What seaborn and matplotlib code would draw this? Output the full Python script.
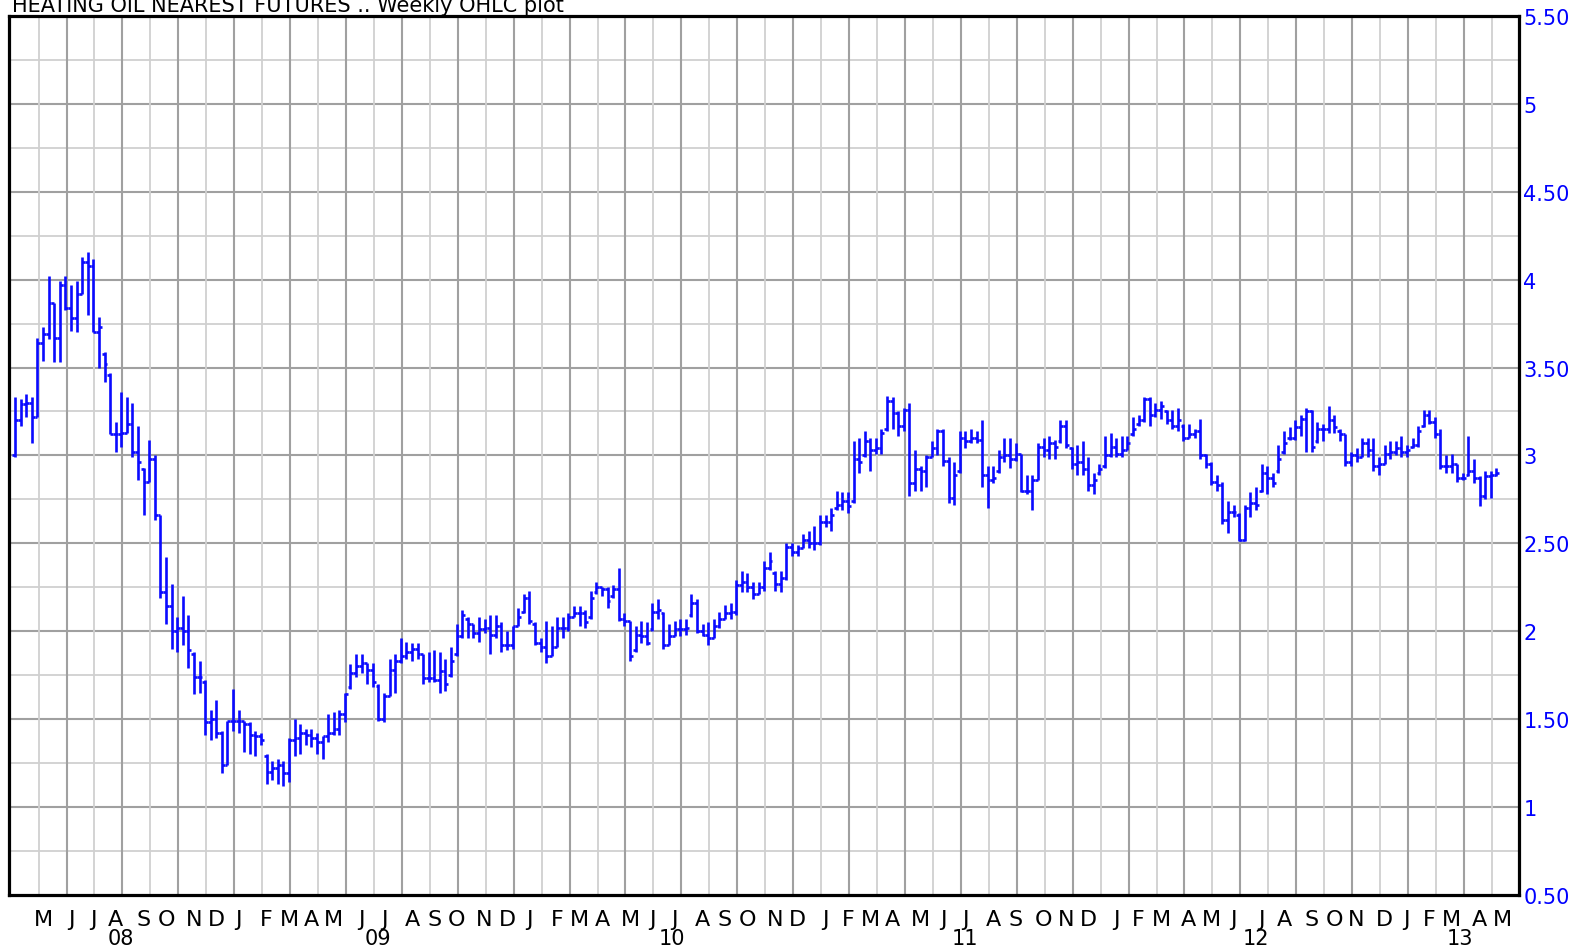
import numpy as np
import pandas as pd
import matplotlib
matplotlib.use("Agg")
import matplotlib.pyplot as plt
import seaborn as sns

# Weekly bars, first bar is the week ending 2008-04-04
start_week = "2008-04-04"

opens = [
    3.00, 3.20, 3.29, 3.30, 3.22, 3.64, 3.69, 3.87, 3.67, 3.97,
    3.84, 3.78, 3.92, 4.10, 4.08, 3.70, 3.58, 3.46, 3.12, 3.12,
    3.13, 3.18, 3.02, 2.92, 2.85, 2.98, 2.66, 2.22, 2.14, 2.00,
    2.02, 2.00, 1.87, 1.74, 1.71, 1.48, 1.50, 1.42, 1.24, 1.49,
    1.49, 1.49, 1.47, 1.41, 1.40, 1.29, 1.20, 1.22, 1.24, 1.19,
    1.38, 1.39, 1.42, 1.41, 1.39, 1.37, 1.40, 1.42, 1.44, 1.53,
    1.68, 1.76, 1.80, 1.82, 1.78, 1.69, 1.50, 1.63, 1.78, 1.83,
    1.86, 1.88, 1.90, 1.87, 1.73, 1.73, 1.72, 1.77, 1.75, 1.87,
    1.97, 2.07, 2.04, 1.99, 2.01, 2.02, 1.98, 2.03, 1.92, 1.92,
    2.03, 2.11, 2.19, 2.04, 1.93, 1.91, 1.86, 1.91, 2.02, 2.02,
    2.08, 2.10, 2.10, 2.08, 2.22, 2.25, 2.24, 2.20, 2.24, 2.07,
    2.06, 1.89, 1.98, 1.97, 2.01, 2.11, 2.10, 1.92, 1.97, 2.01,
    2.01, 2.09, 2.16, 2.00, 1.98, 1.96, 2.03, 2.07, 2.10, 2.11,
    2.26, 2.28, 2.25, 2.21, 2.25, 2.36, 2.33, 2.27, 2.30, 2.48,
    2.45, 2.47, 2.52, 2.50, 2.50, 2.62, 2.62, 2.70, 2.72, 2.74,
    2.74, 2.98, 3.00, 3.08, 3.03, 3.04, 3.15, 3.31, 3.24, 3.17,
    3.26, 2.84, 2.92, 2.91, 2.99, 3.04, 3.14, 2.97, 2.76, 2.91,
    3.10, 3.08, 3.10, 3.09, 2.89, 2.86, 2.91, 2.99, 3.00, 2.98,
    3.01, 2.80, 2.80, 2.86, 3.05, 3.03, 3.07, 3.08, 3.17, 3.04,
    2.95, 2.96, 2.92, 2.83, 2.90, 2.94, 3.00, 3.05, 3.01, 3.03,
    3.12, 3.18, 3.20, 3.32, 3.23, 3.26, 3.25, 3.20, 3.17, 3.17,
    3.10, 3.12, 3.14, 3.00, 2.95, 2.85, 2.83, 2.63, 2.68, 2.66,
    2.52, 2.70, 2.73, 2.80, 2.90, 2.87, 2.91, 3.02, 3.10, 3.10,
    3.16, 3.21, 3.25, 3.08, 3.15, 3.15, 3.20, 3.14, 3.12, 2.96,
    3.00, 2.99, 3.07, 3.03, 2.94, 2.95, 3.01, 3.02, 3.04, 3.02,
    3.05, 3.06, 3.17, 3.23, 3.19, 3.12, 2.94, 2.94, 2.95, 2.87,
    2.89, 2.91, 2.87, 2.77, 2.88, 2.89,
]

highs = [
    3.33, 3.32, 3.35, 3.33, 3.67, 3.73, 4.02, 3.87, 3.99, 4.02,
    3.97, 3.99, 4.13, 4.16, 4.12, 3.79, 3.59, 3.47, 3.19, 3.36,
    3.33, 3.30, 3.17, 2.93, 3.09, 3.00, 2.66, 2.42, 2.27, 2.08,
    2.20, 2.09, 1.88, 1.83, 1.72, 1.55, 1.61, 1.43, 1.49, 1.67,
    1.55, 1.49, 1.48, 1.43, 1.42, 1.30, 1.26, 1.27, 1.26, 1.39,
    1.50, 1.47, 1.44, 1.44, 1.42, 1.40, 1.53, 1.54, 1.55, 1.65,
    1.81, 1.87, 1.87, 1.82, 1.82, 1.70, 1.65, 1.84, 1.87, 1.96,
    1.94, 1.93, 1.93, 1.87, 1.88, 1.89, 1.88, 1.84, 1.91, 2.04,
    2.12, 2.08, 2.04, 2.08, 2.07, 2.09, 2.09, 2.05, 2.00, 2.03,
    2.13, 2.21, 2.23, 2.05, 1.96, 2.06, 2.03, 2.08, 2.08, 2.10,
    2.14, 2.14, 2.12, 2.23, 2.28, 2.25, 2.25, 2.26, 2.36, 2.10,
    2.06, 2.03, 2.06, 2.05, 2.16, 2.18, 2.11, 2.04, 2.06, 2.07,
    2.07, 2.21, 2.18, 2.04, 2.05, 2.07, 2.11, 2.15, 2.16, 2.29,
    2.34, 2.33, 2.28, 2.28, 2.40, 2.45, 2.34, 2.34, 2.50, 2.50,
    2.49, 2.55, 2.57, 2.60, 2.66, 2.66, 2.70, 2.80, 2.79, 2.79,
    3.08, 3.10, 3.14, 3.10, 3.10, 3.15, 3.34, 3.33, 3.25, 3.27,
    3.30, 3.03, 2.94, 3.00, 3.08, 3.15, 3.15, 2.99, 2.96, 3.14,
    3.14, 3.15, 3.14, 3.20, 2.94, 2.94, 3.03, 3.10, 3.10, 3.07,
    3.01, 2.89, 2.89, 3.07, 3.10, 3.11, 3.09, 3.20, 3.20, 3.05,
    3.06, 3.08, 2.99, 2.90, 2.95, 3.11, 3.13, 3.10, 3.11, 3.11,
    3.22, 3.23, 3.33, 3.33, 3.30, 3.31, 3.26, 3.26, 3.27, 3.18,
    3.18, 3.15, 3.21, 3.01, 2.96, 2.89, 2.85, 2.74, 2.72, 2.67,
    2.72, 2.79, 2.82, 2.95, 2.94, 2.90, 3.06, 3.14, 3.16, 3.20,
    3.23, 3.27, 3.26, 3.19, 3.18, 3.28, 3.23, 3.15, 3.12, 3.02,
    3.04, 3.10, 3.10, 3.10, 2.99, 3.06, 3.08, 3.08, 3.11, 3.06,
    3.10, 3.17, 3.26, 3.26, 3.22, 3.15, 3.00, 3.01, 2.95, 2.90,
    3.11, 2.98, 2.88, 2.91, 2.91, 2.93,
]

lows = [
    2.99, 3.17, 3.22, 3.07, 3.22, 3.54, 3.66, 3.53, 3.53, 3.83,
    3.71, 3.70, 3.92, 3.80, 3.70, 3.50, 3.42, 3.12, 3.02, 3.05,
    3.13, 2.99, 2.86, 2.66, 2.85, 2.63, 2.19, 2.04, 1.90, 1.88,
    1.92, 1.79, 1.64, 1.65, 1.41, 1.38, 1.39, 1.19, 1.24, 1.43,
    1.42, 1.31, 1.30, 1.29, 1.35, 1.13, 1.15, 1.13, 1.12, 1.14,
    1.29, 1.30, 1.35, 1.34, 1.30, 1.27, 1.37, 1.41, 1.41, 1.48,
    1.67, 1.74, 1.76, 1.70, 1.68, 1.49, 1.48, 1.63, 1.65, 1.82,
    1.84, 1.83, 1.84, 1.70, 1.71, 1.71, 1.65, 1.66, 1.74, 1.86,
    1.96, 1.96, 1.96, 1.94, 1.99, 1.87, 1.96, 1.88, 1.89, 1.90,
    2.03, 2.10, 2.04, 1.92, 1.88, 1.82, 1.86, 1.91, 1.96, 2.00,
    2.08, 2.03, 2.02, 2.07, 2.21, 2.20, 2.13, 2.19, 2.06, 2.03,
    1.83, 1.88, 1.93, 1.92, 2.00, 2.07, 1.90, 1.92, 1.97, 1.97,
    1.98, 2.08, 1.99, 1.97, 1.92, 1.96, 2.02, 2.07, 2.07, 2.09,
    2.22, 2.22, 2.18, 2.21, 2.23, 2.35, 2.23, 2.22, 2.29, 2.43,
    2.43, 2.47, 2.47, 2.46, 2.49, 2.59, 2.57, 2.69, 2.69, 2.67,
    2.73, 2.90, 2.99, 2.91, 3.01, 3.01, 3.14, 3.15, 3.11, 3.14,
    2.77, 2.80, 2.80, 2.82, 2.99, 3.00, 2.94, 2.73, 2.72, 2.90,
    3.04, 3.07, 3.07, 2.82, 2.70, 2.84, 2.90, 2.96, 2.93, 2.97,
    2.79, 2.78, 2.69, 2.86, 2.99, 2.98, 2.98, 3.07, 3.04, 2.92,
    2.89, 2.89, 2.80, 2.78, 2.89, 2.93, 2.99, 2.99, 2.99, 3.03,
    3.11, 3.17, 3.19, 3.17, 3.22, 3.21, 3.18, 3.15, 3.14, 3.08,
    3.10, 3.10, 2.98, 2.93, 2.83, 2.80, 2.61, 2.56, 2.65, 2.51,
    2.51, 2.65, 2.69, 2.79, 2.78, 2.82, 2.90, 3.01, 3.09, 3.09,
    3.11, 3.02, 3.02, 3.07, 3.08, 3.13, 3.13, 3.08, 2.94, 2.94,
    2.96, 2.99, 2.99, 2.91, 2.89, 2.95, 2.98, 3.00, 2.99, 2.99,
    3.04, 3.05, 3.16, 3.18, 3.10, 2.92, 2.90, 2.90, 2.85, 2.86,
    2.88, 2.84, 2.71, 2.75, 2.76, 2.88,
]

closes = [
    3.20, 3.29, 3.30, 3.22, 3.64, 3.69, 3.87, 3.67, 3.97, 3.84,
    3.78, 3.92, 4.10, 4.08, 3.70, 3.73, 3.52, 3.12, 3.12, 3.13,
    3.18, 3.02, 2.96, 2.85, 2.98, 2.66, 2.22, 2.14, 2.00, 2.02,
    2.00, 1.89, 1.74, 1.74, 1.48, 1.50, 1.42, 1.24, 1.49, 1.49,
    1.49, 1.47, 1.41, 1.40, 1.38, 1.20, 1.22, 1.24, 1.19, 1.38,
    1.39, 1.42, 1.41, 1.39, 1.37, 1.40, 1.42, 1.44, 1.53, 1.64,
    1.76, 1.80, 1.82, 1.78, 1.71, 1.50, 1.63, 1.78, 1.83, 1.86,
    1.88, 1.90, 1.87, 1.73, 1.73, 1.72, 1.77, 1.70, 1.83, 1.97,
    2.09, 2.04, 1.99, 2.01, 2.02, 1.98, 2.03, 1.92, 1.92, 2.03,
    2.08, 2.19, 2.06, 1.93, 1.91, 1.86, 1.91, 2.02, 2.02, 2.08,
    2.10, 2.10, 2.05, 2.19, 2.25, 2.24, 2.17, 2.24, 2.07, 2.06,
    1.86, 1.98, 1.97, 1.93, 2.11, 2.12, 1.92, 1.97, 2.01, 2.01,
    2.02, 2.16, 2.00, 1.98, 1.96, 2.03, 2.07, 2.10, 2.11, 2.26,
    2.28, 2.25, 2.21, 2.25, 2.36, 2.40, 2.27, 2.30, 2.48, 2.45,
    2.47, 2.52, 2.50, 2.50, 2.62, 2.62, 2.66, 2.72, 2.74, 2.71,
    2.98, 2.96, 3.08, 3.03, 3.04, 3.13, 3.31, 3.24, 3.17, 3.26,
    2.84, 2.92, 2.91, 2.99, 3.04, 3.14, 2.97, 2.76, 2.89, 3.10,
    3.08, 3.10, 3.09, 2.89, 2.86, 2.87, 2.99, 3.00, 2.98, 3.01,
    2.80, 2.80, 2.86, 3.05, 3.03, 3.07, 3.05, 3.17, 3.06, 2.95,
    2.96, 2.92, 2.83, 2.86, 2.92, 3.00, 3.05, 3.01, 3.03, 3.07,
    3.15, 3.20, 3.32, 3.23, 3.26, 3.28, 3.20, 3.17, 3.20, 3.10,
    3.12, 3.14, 3.00, 2.95, 2.85, 2.83, 2.63, 2.68, 2.68, 2.52,
    2.70, 2.73, 2.72, 2.90, 2.87, 2.84, 2.98, 3.07, 3.10, 3.16,
    3.21, 3.25, 3.05, 3.15, 3.15, 3.20, 3.16, 3.12, 2.96, 3.00,
    2.99, 3.07, 3.03, 2.94, 2.95, 3.01, 3.02, 3.04, 3.02, 3.03,
    3.06, 3.14, 3.23, 3.19, 3.12, 2.94, 2.94, 2.95, 2.87, 2.87,
    2.91, 2.87, 2.77, 2.88, 2.89, 2.90,
]

title = "HEATING OIL NEAREST FUTURES .. Weekly OHLC plot"
price_ticks = [0.5, 1, 1.5, 2, 2.5, 3, 3.5, 4, 4.5, 5, 5.5]
price_labels = ["0.50", "1", "1.50", "2", "2.50", "3", "3.50", "4", "4.50", "5", "5.50"]
month_letters = "JFMAMJJASOND"

sns.set_style("white")
plt.rcParams["font.family"] = ["DejaVu Sans"]

df = pd.DataFrame({
    "date": pd.date_range(start_week, periods=len(closes), freq="7D"),
    "open": opens, "high": highs, "low": lows, "close": closes,
})
df["x"] = np.arange(len(df))

fig = plt.figure(figsize=(15.83, 9.53), dpi=100)
ax = fig.add_axes([0.00575, 0.0603, 0.954, 0.9216])
x_lo, x_hi = -1.07, 269.1
ax.set_xlim(x_lo, x_hi)
ax.set_ylim(0.5, 5.5)

# grid: dark every 0.50 / 10 weeks, light in between
for v in np.arange(0.75, 5.5, 0.5):
    ax.axhline(v, color="#d0d0d0", lw=1.3, zorder=0)
for v in np.arange(1.0, 5.5, 0.5):
    ax.axhline(v, color="#a0a0a0", lw=1.5, zorder=0)
for v in np.arange(4.2, 269, 10):
    ax.axvline(v, color="#d0d0d0", lw=1.3, zorder=0)
for v in np.arange(9.2, 269, 10):
    ax.axvline(v, color="#a0a0a0", lw=1.5, zorder=0)

# OHLC bars
bar_color = "#0a0aff"
ax.vlines(df["x"], df["low"], df["high"], color=bar_color, lw=1.9, zorder=3)
ax.hlines(df["open"], df["x"] - 0.5, df["x"], color=bar_color, lw=1.9, zorder=3)
ax.hlines(df["close"], df["x"], df["x"] + 0.5, color=bar_color, lw=1.9, zorder=3)

# right-hand price axis
ax.yaxis.tick_right()
ax.set_yticks(price_ticks)
ax.set_yticklabels(price_labels)
ax.tick_params(axis="y", length=0, pad=3, labelcolor="#0000ff", labelsize=15)
ax.set_xticks([])
for s in ax.spines.values():
    s.set_visible(True)
    s.set_color("black")
    s.set_linewidth(2.3)

# month letters and year labels under the frame
trans = ax.get_xaxis_transform()
new_month = df["date"].dt.month != df["date"].dt.month.shift()
new_month.iloc[0] = False
for x, d in zip(df.loc[new_month, "x"], df.loc[new_month, "date"]):
    ax.text(x + 1, -0.028, month_letters[d.month - 1], transform=trans,
            ha="center", va="center", fontsize=16, color="black")

years = df.groupby(df["date"].dt.year)["x"].min()
edges = [x_lo] + list(years.values[1:]) + [x_hi]
for k, yr in enumerate(years.index):
    ax.text((edges[k] + edges[k + 1]) / 2, -0.05, f"{yr % 100:02d}", transform=trans,
            ha="center", va="center", fontsize=15, color="black")

fig.text(12.5 / 1583, 1 - 12.5 / 953, title, ha="left", va="baseline",
         fontsize=15, color="black")

fig.savefig("out.png", dpi=100)
